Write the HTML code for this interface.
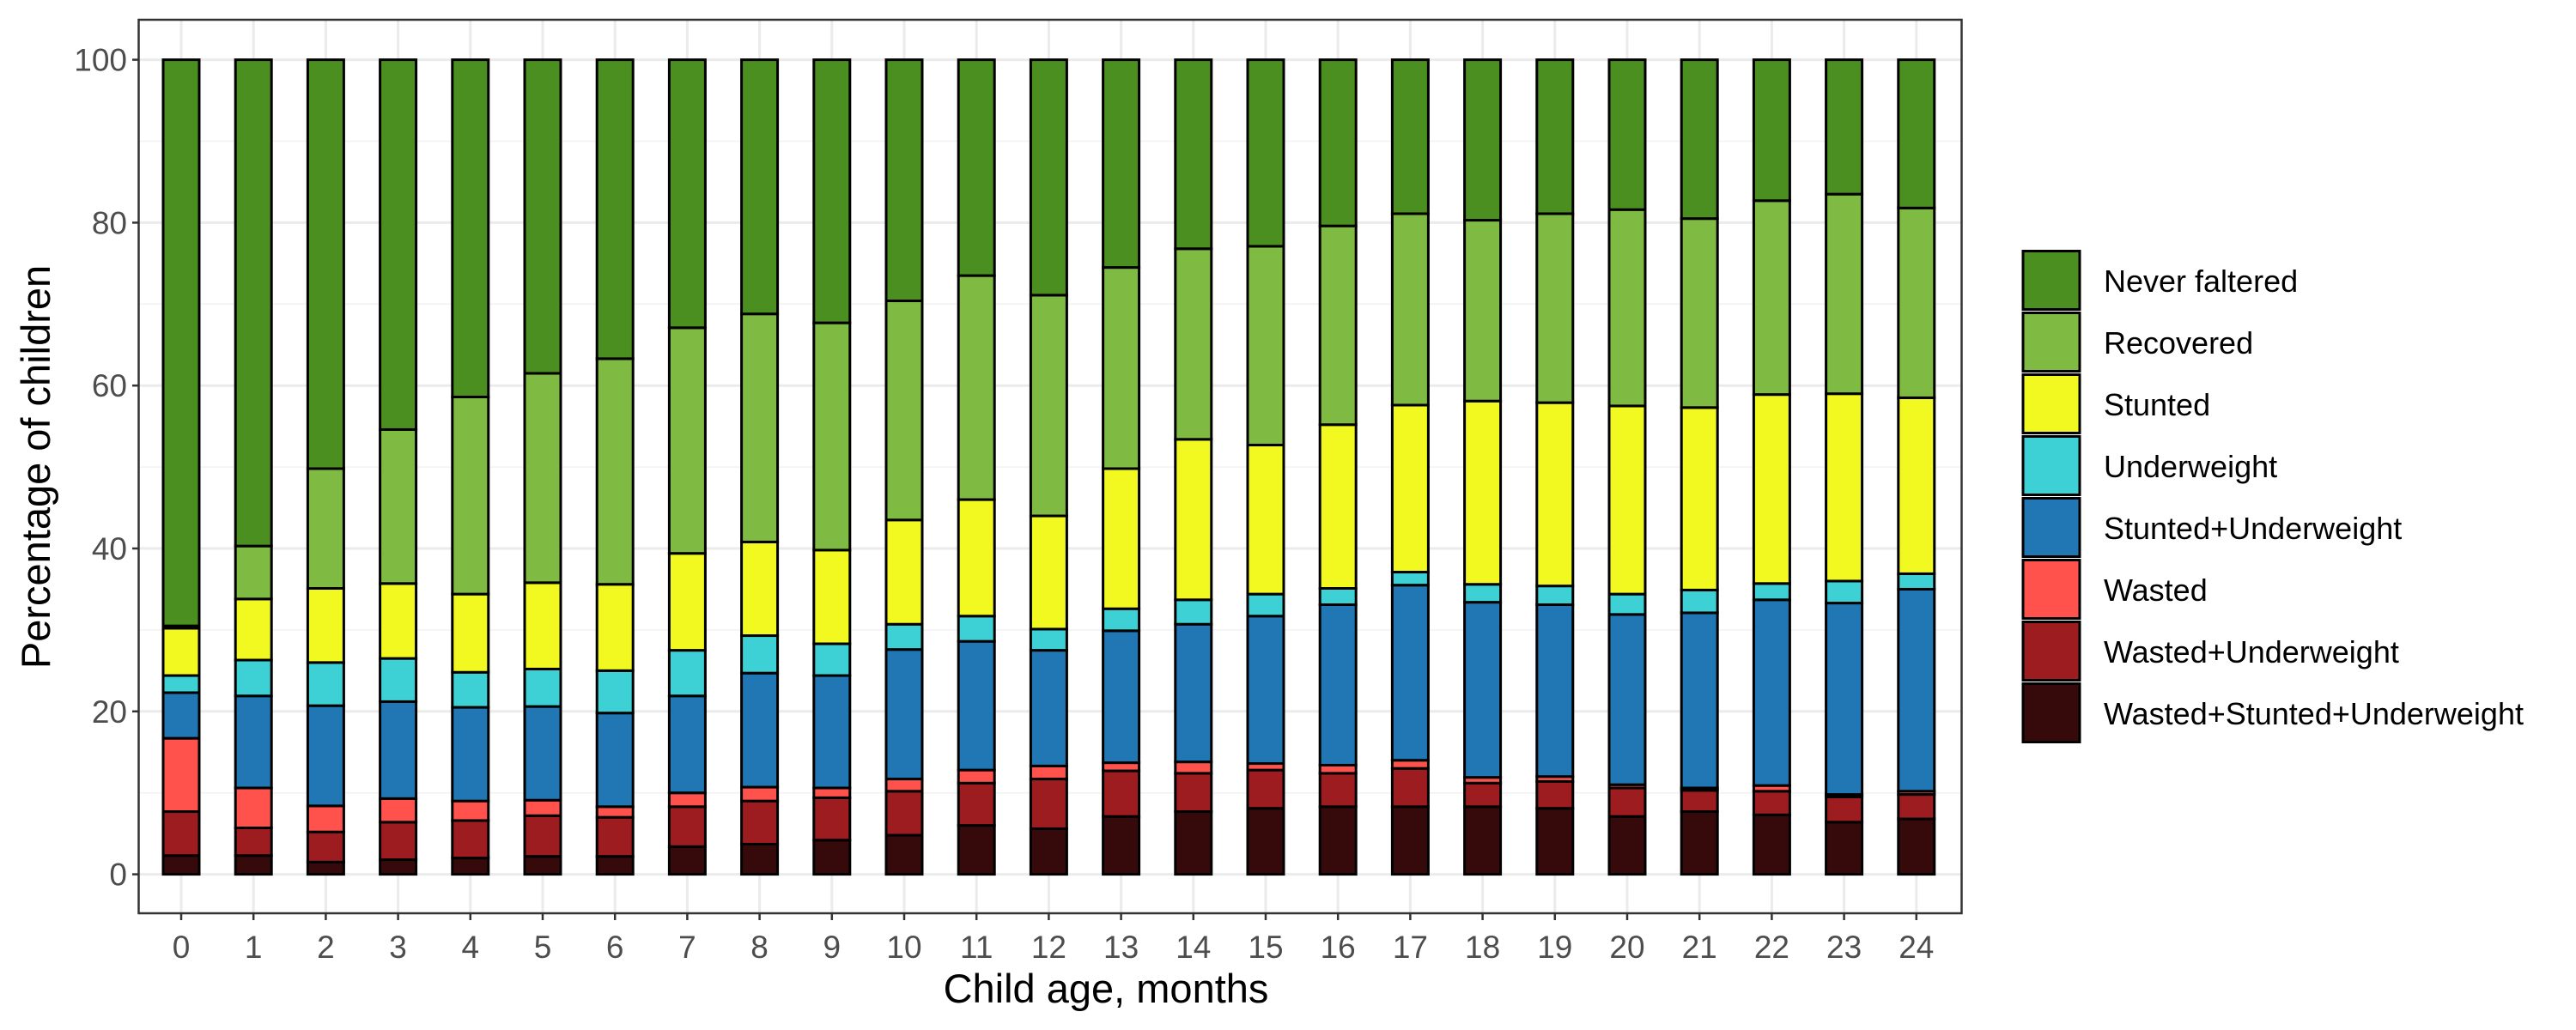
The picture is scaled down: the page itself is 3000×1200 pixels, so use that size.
<!DOCTYPE html>
<html><head><meta charset="utf-8"><style>
html,body{margin:0;padding:0;background:#fff;}
svg{display:block;font-family:"Liberation Sans",Arial,sans-serif;}
</style></head><body>
<svg id="chart" width="3000" height="1200" viewBox="0 0 3000 1200">
<rect x="0" y="0" width="3000" height="1200" fill="#fff"/>
<g id="grid"></g>
<g id="bars"></g>
<rect x="161.5" y="23" width="2123" height="1041" fill="none" stroke="#333" stroke-width="2.5"/>
<g id="axes"></g>
<text x="1288" y="1168" font-size="47" text-anchor="middle" fill="#000">Child age, months</text>
<text transform="translate(58,544) rotate(-90)" font-size="47" text-anchor="middle" fill="#000">Percentage of children</text>
<g id="legend"></g>
</svg>
<script>
const ages = [0,1,2,3,4,5,6,7,8,9,10,11,12,13,14,15,16,17,18,19,20,21,22,23,24];
const yTicks = [0,20,40,60,80,100];
const seriesNames = ["Wasted+Stunted+Underweight","Wasted+Underweight","Wasted","Stunted+Underweight","Underweight","Stunted","Recovered","Never faltered"];
const seriesColors = ["#360a0a","#9c1c1f","#ff524d","#2077b4","#3dd1d6","#f2f920","#7fba42","#4b8f20"];
const wsu = [2.3,2.3,1.5,1.8,2,2.2,2.2,3.4,3.7,4.2,4.8,6,5.6,7.1,7.7,8.1,8.3,8.3,8.3,8.1,7.1,7.7,7.3,6.4,6.8];
const wu = [5.4,3.4,3.7,4.6,4.6,5.0,4.8,4.9,5.3,5.2,5.4,5.2,6.1,5.6,4.7,4.7,4.1,4.7,2.9,3.3,3.5,2.6,2.9,3.1,3.0];
const wasted = [9.0,4.9,3.2,2.9,2.4,1.9,1.3,1.7,1.7,1.2,1.5,1.6,1.6,1.0,1.4,0.8,1.0,1.0,0.7,0.6,0.4,0.3,0.7,0.3,0.4];
const su = [5.6,11.3,12.3,11.9,11.5,11.5,11.5,11.9,14.0,13.8,15.9,15.8,14.2,16.2,16.9,18.1,19.7,21.5,21.5,21.1,20.9,21.5,22.8,23.5,24.8];
const under = [2.1,4.4,5.3,5.3,4.3,4.6,5.2,5.6,4.6,3.9,3.1,3.1,2.6,2.7,3.0,2.7,2.0,1.6,2.2,2.3,2.5,2.8,2.0,2.7,1.9];
const stunted = [5.8,7.5,9.1,9.2,9.6,10.6,10.6,11.9,11.5,11.5,12.8,14.3,13.9,17.2,19.7,18.3,20.1,20.5,22.5,22.5,23.1,22.4,23.2,23.0,21.6];
const recovered = [0.3,6.5,14.7,18.9,24.2,25.7,27.7,27.7,28.0,27.9,26.9,27.5,27.1,24.7,23.4,24.4,24.4,23.5,22.2,23.2,24.1,23.2,23.8,24.5,23.3];

const NS="http://www.w3.org/2000/svg";
function mk(tag,attrs,parent){const e=document.createElementNS(NS,tag);for(const k in attrs)e.setAttribute(k,attrs[k]);parent.appendChild(e);return e;}
const yScale=v=>1018.6-v*9.49;
const xScale=i=>211+i*84.2;
const bw=42;
const grid=document.getElementById('grid'),bars=document.getElementById('bars'),axes=document.getElementById('axes'),legend=document.getElementById('legend');

for(let v=10;v<=100;v+=20){const l=mk('line',{x1:161.5,x2:2284.5,y1:yScale(v),y2:yScale(v),stroke:'#f2f2f2','stroke-width':1.5},grid);

}
yTicks.forEach(v=>{const l=mk('line',{x1:161.5,x2:2284.5,y1:yScale(v),y2:yScale(v),stroke:'#ebebeb','stroke-width':3},grid);


const t=mk('line',{x1:154,x2:161.5,y1:yScale(v),y2:yScale(v),stroke:'#333','stroke-width':2.5},axes);


const tx=mk('text',{x:148,y:yScale(v)+13,'font-size':37,'text-anchor':'end',fill:'#4d4d4d'},axes);


tx.textContent=v;});
ages.forEach((a,i)=>{const l=mk('line',{x1:xScale(i),x2:xScale(i),y1:23,y2:1064,stroke:'#ebebeb','stroke-width':3},grid);


const t=mk('line',{x1:xScale(i),x2:xScale(i),y1:1064,y2:1072,stroke:'#333','stroke-width':2.5},axes);


const tx=mk('text',{x:xScale(i),y:1116,'font-size':37,'text-anchor':'middle',fill:'#4d4d4d'},axes);


tx.textContent=a;});

const series=[wsu,wu,wasted,su,under,stunted,recovered];
ages.forEach((a,i)=>{
  let cum=0;
  const vals=series.map(s=>s[i]);
  const sumv=vals.reduce((p,c)=>p+c,0);
  vals.push(100-sumv);
  vals.forEach((v,k)=>{
    const y0=yScale(cum),y1=yScale(cum+v);
    const r=mk('rect',{x:xScale(i)-bw/2,y:y1,width:bw,height:Math.max(0,y0-y1),fill:seriesColors[k],stroke:'#000','stroke-width':3},bars);
    
    
    cum+=v;
  });
});

for(let k=0;k<8;k++){
  const idx=7-k;
  const y=291+k*72;
  const r=mk('rect',{x:2356,y:y+1.5,width:66,height:68,fill:seriesColors[idx],stroke:'#000','stroke-width':3},legend);
  
  
  const t=mk('text',{x:2450,y:y+49,'font-size':36,fill:'#000'},legend);
  
  
  t.textContent=seriesNames[idx];
}
</script>
</body></html>
